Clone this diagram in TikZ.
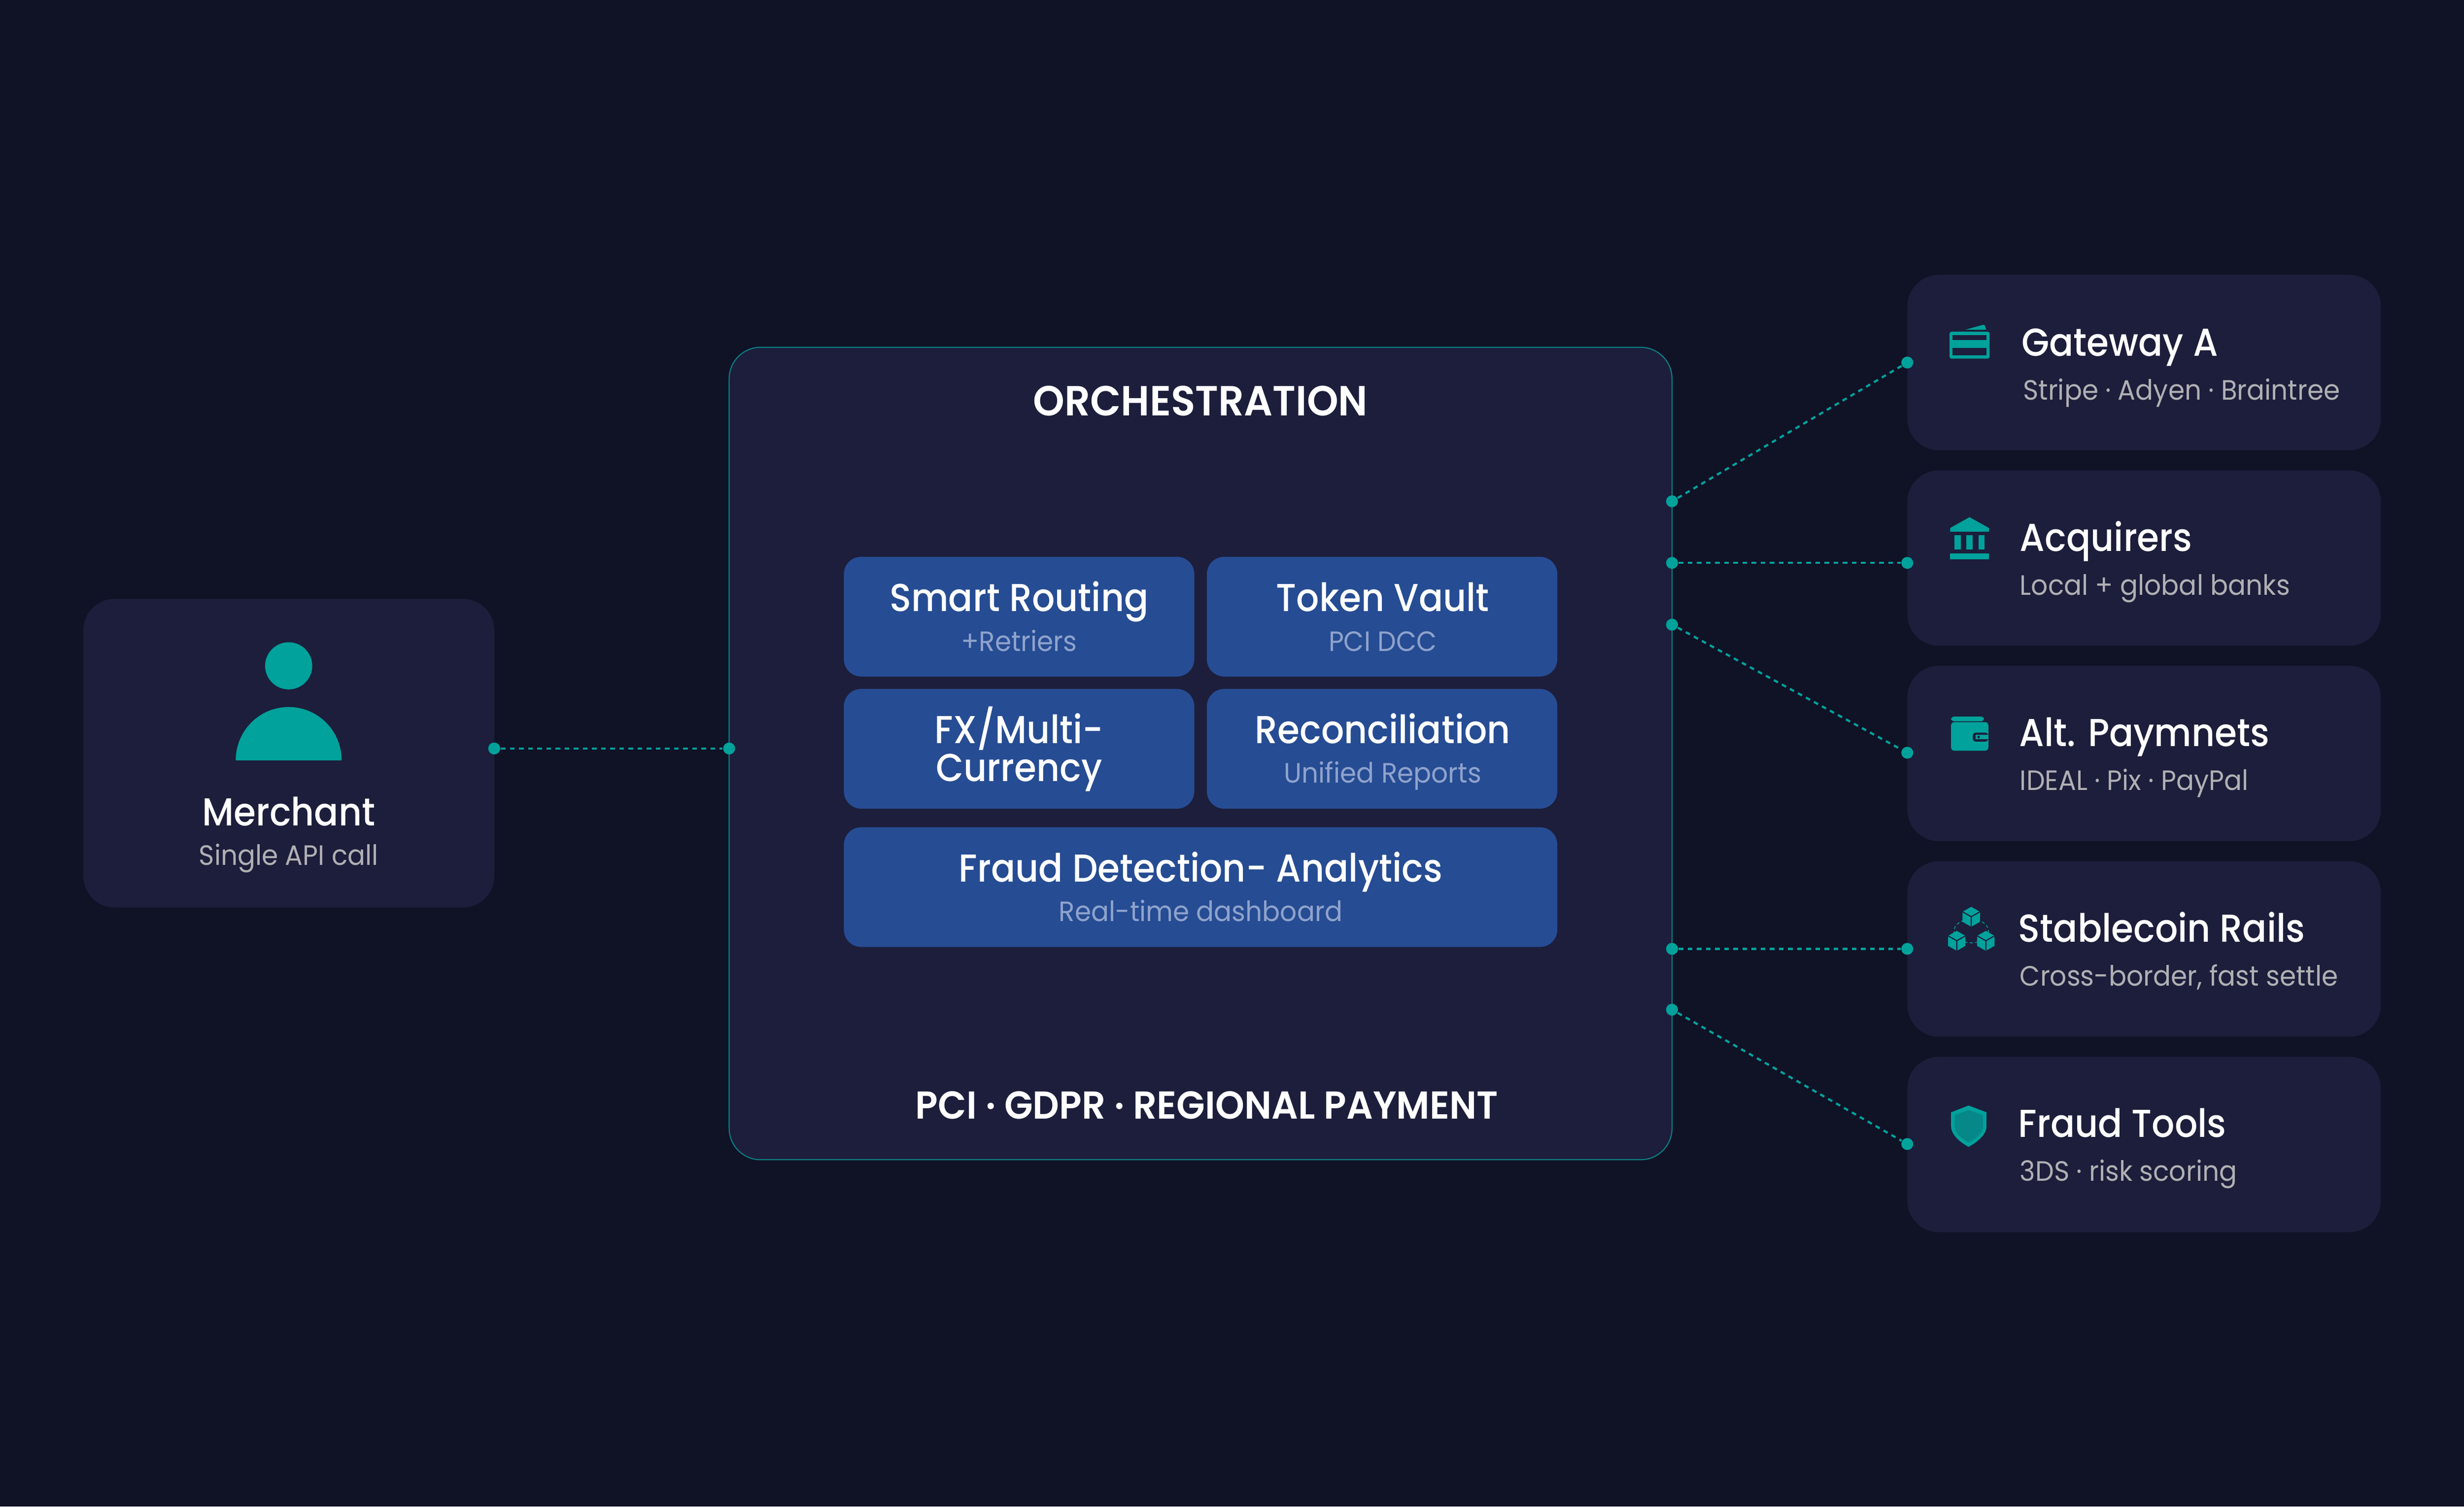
\documentclass[tikz,border=0pt]{standalone}
\usepackage{fontspec}
\setmainfont{Poppins}[FakeStretch=0.94]
\newfontfamily\headfont{Poppins Medium}[FakeStretch=0.92]
\newfontfamily\bighead{Poppins SemiBold}[FakeStretch=0.95]
\usetikzlibrary{positioning, shapes.geometric}

\definecolor{bgdark}{HTML}{101226}
\definecolor{cardfill}{HTML}{1C1E3B}
\definecolor{tealmain}{HTML}{00A29B}
\definecolor{tealdark}{HTML}{078888}
\definecolor{tealline}{HTML}{0B7F82}
\definecolor{blockblue}{HTML}{264C93}
\definecolor{blocksub}{HTML}{8FA3CC}
\definecolor{graysub}{HTML}{B0B0B4}

\tikzset{
    cardbox/.style={rectangle, rounded corners=10pt, fill=cardfill, inner sep=0pt, minimum width=150.65pt, minimum height=55.8pt},
    blockbox/.style={rectangle, rounded corners=5.5pt, fill=blockblue, inner sep=0pt, minimum width=111.5pt, minimum height=38.1pt},
    titletext/.style={inner sep=0pt, text=white, font=\headfont\fontsize{12.4}{12.4}\selectfont},
    subtext/.style={inner sep=0pt, text=graysub, font=\fontsize{8.9}{8.9}\selectfont},
    blocksubtext/.style={inner sep=0pt, text=blocksub, font=\fontsize{8.9}{8.9}\selectfont},
    headtext/.style={inner sep=0pt, text=white, font=\bighead\fontsize{13.4}{13.4}\selectfont},
    portdot/.style={circle, fill=tealmain, inner sep=0pt, minimum size=3.8pt},
    linkline/.style={tealmain, line width=0.7pt, dash pattern=on 1.5pt off 1.4pt},
    pics/cube/.style={code={
        \fill[tealmain] (0,-6.35) -- (5.55,-3.2) -- (5.55,3.2) -- (0,6.35) -- (-5.55,3.2) -- (-5.55,-3.2) -- cycle;
        \draw[cardfill, line width=0.35pt] (-5.55,-3.2) -- (0,-0.05) -- (5.55,-3.2) (0,-0.05) -- (0,6.35);
    }}
}

\begin{document}
\begin{tikzpicture}[x=0.5pt, y=-0.5pt]
        % Page background
        \fill[bgdark] (0,0) rectangle (1568,958.7);

        % Merchant card
        \node[cardbox, minimum width=130.75pt, minimum height=98.25pt] (merchant) at (183.8,479.3) {};
        \fill[tealmain] (183.7,423.7) circle (15);
        \fill[tealmain] (150,483.8) arc (180:360:33.7 and 33.9) -- cycle;
        \node[titletext, anchor=base] (merchanttitle) at (183.7,525.5) {Merchant};
        \node[subtext, anchor=base] (merchantsub) at (183.7,550.5) {Single API call};

        % Orchestration panel
        \node[rectangle, rounded corners=10pt, fill=cardfill, draw=tealline, line width=0.35pt, inner sep=0pt, minimum width=300pt, minimum height=258.5pt] (orch) at (764,479.5) {};
        \node[headtext, anchor=base] (orchtitle) at (764,264.5) {ORCHESTRATION};
        \node[headtext, anchor=base, font=\bighead\fontsize{12.4}{12.4}\selectfont] (orchfoot) at (768,712) {PCI · GDPR · REGIONAL PAYMENT};

        % Inner blocks
        \node[blockbox] (routing) at (648.5,392.4) {};
        \node[blockbox] (vault) at (879.5,392.4) {};
        \node[blockbox] (fx) at (648.5,476.5) {};
        \node[blockbox] (recon) at (879.5,476.5) {};
        \node[blockbox, minimum width=227pt] (fraud) at (764,564.5) {};

        \node[titletext, anchor=base] (routingtitle) at (648.5,389) {Smart Routing};
        \node[blocksubtext, anchor=base] (routingsub) at (648.5,414.4) {+Retriers};
        \node[titletext, anchor=base] (vaulttitle) at (879.9,389) {Token Vault};
        \node[blocksubtext, anchor=base] (vaultsub) at (879.9,414.4) {PCI DCC};
        \node[titletext, anchor=base] (fxtitle) at (648.5,473) {FX/Multi-};
        \node[titletext, anchor=base] (fxnext) at (648.5,497.3) {Currency};
        \node[titletext, anchor=base] (recontitle) at (879.9,473) {Reconciliation};
        \node[blocksubtext, anchor=base] (reconsub) at (879.9,498.3) {Unified Reports};
        \node[titletext, anchor=base] (fraudtitle) at (764.1,561.2) {Fraud Detection- Analytics};
        \node[blocksubtext, anchor=base] (fraudsub) at (764.1,586.3) {Real-time dashboard};

        % Provider cards
        \node[cardbox] (gateway) at (1364.4,230.7) {};
        \node[cardbox] (acquirers) at (1364.4,355.1) {};
        \node[cardbox] (altpay) at (1364.4,479.5) {};
        \node[cardbox] (stable) at (1364.4,603.9) {};
        \node[cardbox] (fraudtools) at (1364.4,728.3) {};

        \node[titletext, anchor=base west] (gatewaytitle) at (1286,226.5) {Gateway A};
        \node[subtext, anchor=base west] (gatewaysub) at (1287,254.6) {Stripe · Adyen · Braintree};
        \node[titletext, anchor=base west] (acquirerstitle) at (1285,350.8) {Acquirers};
        \node[subtext, anchor=base west] (acquirerssub) at (1285,378.6) {Local + global banks};
        \node[titletext, anchor=base west] (altpaytitle) at (1284.5,475) {Alt. Paymnets};
        \node[subtext, anchor=base west] (altpaysub) at (1285,503) {IDEAL · Pix · PayPal};
        \node[titletext, anchor=base west] (stabletitle) at (1284,599.3) {Stablecoin Rails};
        \node[subtext, anchor=base west] (stablesub) at (1285,627.3) {Cross-border, fast settle};
        \node[titletext, anchor=base west] (fraudtoolstitle) at (1284,723.6) {Fraud Tools};
        \node[subtext, anchor=base west] (fraudtoolssub) at (1285,751.6) {3DS · risk scoring};

        % Gateway icon (card)
        \fill[tealmain, rounded corners=0.6pt] (1240.6,211.1) rectangle (1266.1,228.2);
        \fill[cardfill] (1242.6,213.3) rectangle (1264.1,216.4);
        \fill[cardfill] (1242.6,221.5) rectangle (1264.1,226.2);
        \fill[tealmain] (1250.7,209.8) -- (1261.9,206.7) -- (1263,207) -- (1263.9,209.8) -- cycle;

        % Acquirers icon (bank)
        \fill[tealmain] (1253.3,329.1) -- (1265.7,336) -- (1265.7,338.3) -- (1241,338.3) -- (1241,336) -- cycle;
        \fill[tealmain] (1243.6,340.6) rectangle (1247.7,349.6);
        \fill[tealmain] (1251.3,340.6) rectangle (1255.4,349.6);
        \fill[tealmain] (1259,340.6) rectangle (1263,349.6);
        \fill[tealmain] (1241,352.1) rectangle (1265.7,356);

        % Alt. payments icon (wallet)
        \fill[tealmain, rounded corners=1pt] (1241.6,459) -- (1241.6,456) -- (1262.5,456) -- (1262.5,459) -- cycle;
        \fill[tealmain, rounded corners=1pt] (1241.6,459.5) rectangle (1265.3,477.7);
        \fill[cardfill, rounded corners=1pt] (1255.4,466.2) rectangle (1265.3,471.9);
        \fill[tealmain] (1257.2,467.6) rectangle (1265.3,470.5);
        \fill[cardfill] (1259.1,469) circle (0.8);

        % Stablecoin icon (three blocks)
        \draw[tealmain, line width=0.25pt, dash pattern=on 1pt off 0.7pt] (1254.4,592.5) ellipse (11 and 7.5);
        \pic at (1254.4,583.4) {cube};
        \pic at (1245.2,598.7) {cube};
        \pic at (1263.7,598.7) {cube};

        % Fraud tools icon (shield)
        \fill[tealmain] (1252.7,703.5) -- (1264.1,707.8) -- (1264.1,716.9) .. controls (1264.1,722) and (1258,727) .. (1252.7,729.8) .. controls (1247.4,727) and (1241.6,722) .. (1241.6,716.9) -- (1241.6,707.8) -- cycle;
        \fill[tealdark] (1252.7,706.4) -- (1261.9,709.6) -- (1261.9,716.9) .. controls (1261.9,721) and (1257,725) .. (1252.7,727) .. controls (1248.4,725) and (1243.8,721) .. (1243.8,716.9) -- (1243.8,709.6) -- cycle;

        % Connection dots
        \node[portdot] (mOut) at (314.5,476.3) {};
        \node[portdot] (oIn) at (464,476.3) {};
        \node[portdot] (oOutA) at (1064,319) {};
        \node[portdot] (oOutB) at (1064,358.2) {};
        \node[portdot] (oOutC) at (1064,397.5) {};
        \node[portdot] (oOutD) at (1064,603.8) {};
        \node[portdot] (oOutE) at (1064,642.5) {};
        \node[portdot] (gIn) at (1213.7,230.7) {};
        \node[portdot] (aIn) at (1213.7,358.2) {};
        \node[portdot] (pIn) at (1213.7,479) {};
        \node[portdot] (sIn) at (1213.7,603.8) {};
        \node[portdot] (fIn) at (1213.7,728) {};

        % Dotted connectors
        \draw[linkline] (mOut) -- (oIn);
        \draw[linkline] (oOutA) -- (gIn);
        \draw[linkline] (oOutB) -- (aIn);
        \draw[linkline] (oOutC) -- (pIn);
        \draw[linkline] (oOutD) -- (sIn);
        \draw[linkline] (oOutE) -- (fIn);
    \end{tikzpicture}
\end{document}
